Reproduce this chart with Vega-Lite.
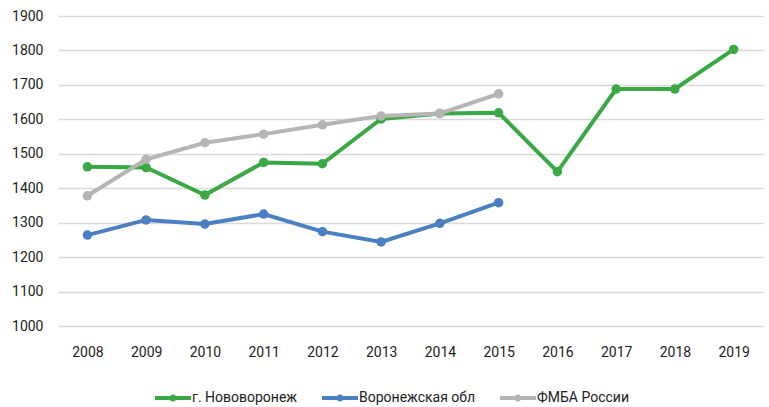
{
  "$schema": "https://vega.github.io/schema/vega-lite/v6.json",
  "autosize": "none",
  "width": 705,
  "height": 310,
  "padding": {"left": 58, "top": 16, "right": 6, "bottom": 81},
  "background": "white",
  "config": {
    "view": {"stroke": null},
    "font": "Roboto"
  },
  "data": {
    "values": [
      {"year": "2008", "series": "г. Нововоронеж", "value": 1462},
      {"year": "2009", "series": "г. Нововоронеж", "value": 1460},
      {"year": "2010", "series": "г. Нововоронеж", "value": 1380},
      {"year": "2011", "series": "г. Нововоронеж", "value": 1475},
      {"year": "2012", "series": "г. Нововоронеж", "value": 1471},
      {"year": "2013", "series": "г. Нововоронеж", "value": 1601},
      {"year": "2014", "series": "г. Нововоронеж", "value": 1617},
      {"year": "2015", "series": "г. Нововоронеж", "value": 1619},
      {"year": "2016", "series": "г. Нововоронеж", "value": 1448},
      {"year": "2017", "series": "г. Нововоронеж", "value": 1688},
      {"year": "2018", "series": "г. Нововоронеж", "value": 1688},
      {"year": "2019", "series": "г. Нововоронеж", "value": 1803},
      {"year": "2008", "series": "Воронежская обл", "value": 1264},
      {"year": "2009", "series": "Воронежская обл", "value": 1308},
      {"year": "2010", "series": "Воронежская обл", "value": 1296},
      {"year": "2011", "series": "Воронежская обл", "value": 1325},
      {"year": "2012", "series": "Воронежская обл", "value": 1274},
      {"year": "2013", "series": "Воронежская обл", "value": 1244},
      {"year": "2014", "series": "Воронежская обл", "value": 1298},
      {"year": "2015", "series": "Воронежская обл", "value": 1358},
      {"year": "2008", "series": "ФМБА России", "value": 1378},
      {"year": "2009", "series": "ФМБА России", "value": 1484},
      {"year": "2010", "series": "ФМБА России", "value": 1532},
      {"year": "2011", "series": "ФМБА России", "value": 1557},
      {"year": "2012", "series": "ФМБА России", "value": 1584},
      {"year": "2013", "series": "ФМБА России", "value": 1610},
      {"year": "2014", "series": "ФМБА России", "value": 1617},
      {"year": "2015", "series": "ФМБА России", "value": 1674}
    ]
  },
  "encoding": {
    "x": {
      "field": "year",
      "type": "ordinal",
      "title": null,
      "axis": {
        "labelAngle": 0,
        "labelFont": "Roboto",
        "labelFontSize": 14,
        "labelColor": "#222222",
        "labelPadding": 19,
        "ticks": false,
        "domain": false,
        "grid": false
      }
    },
    "y": {
      "field": "value",
      "type": "quantitative",
      "title": null,
      "scale": {"domain": [1000, 1900], "nice": false, "zero": false},
      "axis": {
        "values": [1000, 1100, 1200, 1300, 1400, 1500, 1600, 1700, 1800, 1900],
        "format": "d",
        "labelFont": "Roboto",
        "labelFontSize": 14,
        "labelColor": "#222222",
        "labelPadding": 15,
        "ticks": false,
        "domain": false,
        "grid": true,
        "gridColor": "#d9d9d9",
        "gridWidth": 1.5
      }
    },
    "color": {
      "field": "series",
      "type": "nominal",
      "title": null,
      "scale": {
        "domain": ["г. Нововоронеж", "Воронежская обл", "ФМБА России"],
        "range": ["#3aa845", "#4a80c2", "#b5b5b5"]
      },
      "legend": {
        "orient": "none",
        "direction": "horizontal",
        "legendX": 97,
        "legendY": 364,
        "labelFont": "Roboto",
        "labelFontSize": 14,
        "labelColor": "#222222",
        "symbolType": "M-1,-0.11L1,-0.11L1,0.11L-1,0.11Z M0.2,0A0.2,0.2 0 1,1 -0.2,0A0.2,0.2 0 1,1 0.2,0Z",
        "symbolSize": 1296,
        "symbolStrokeWidth": 0,
        "symbolOpacity": 1,
        "columnPadding": 24,
        "labelOffset": 1
      }
    }
  },
  "layer": [
    {"mark": {"type": "line", "strokeWidth": 4}},
    {"mark": {"type": "point", "filled": true, "size": 90, "opacity": 1}}
  ]
}
